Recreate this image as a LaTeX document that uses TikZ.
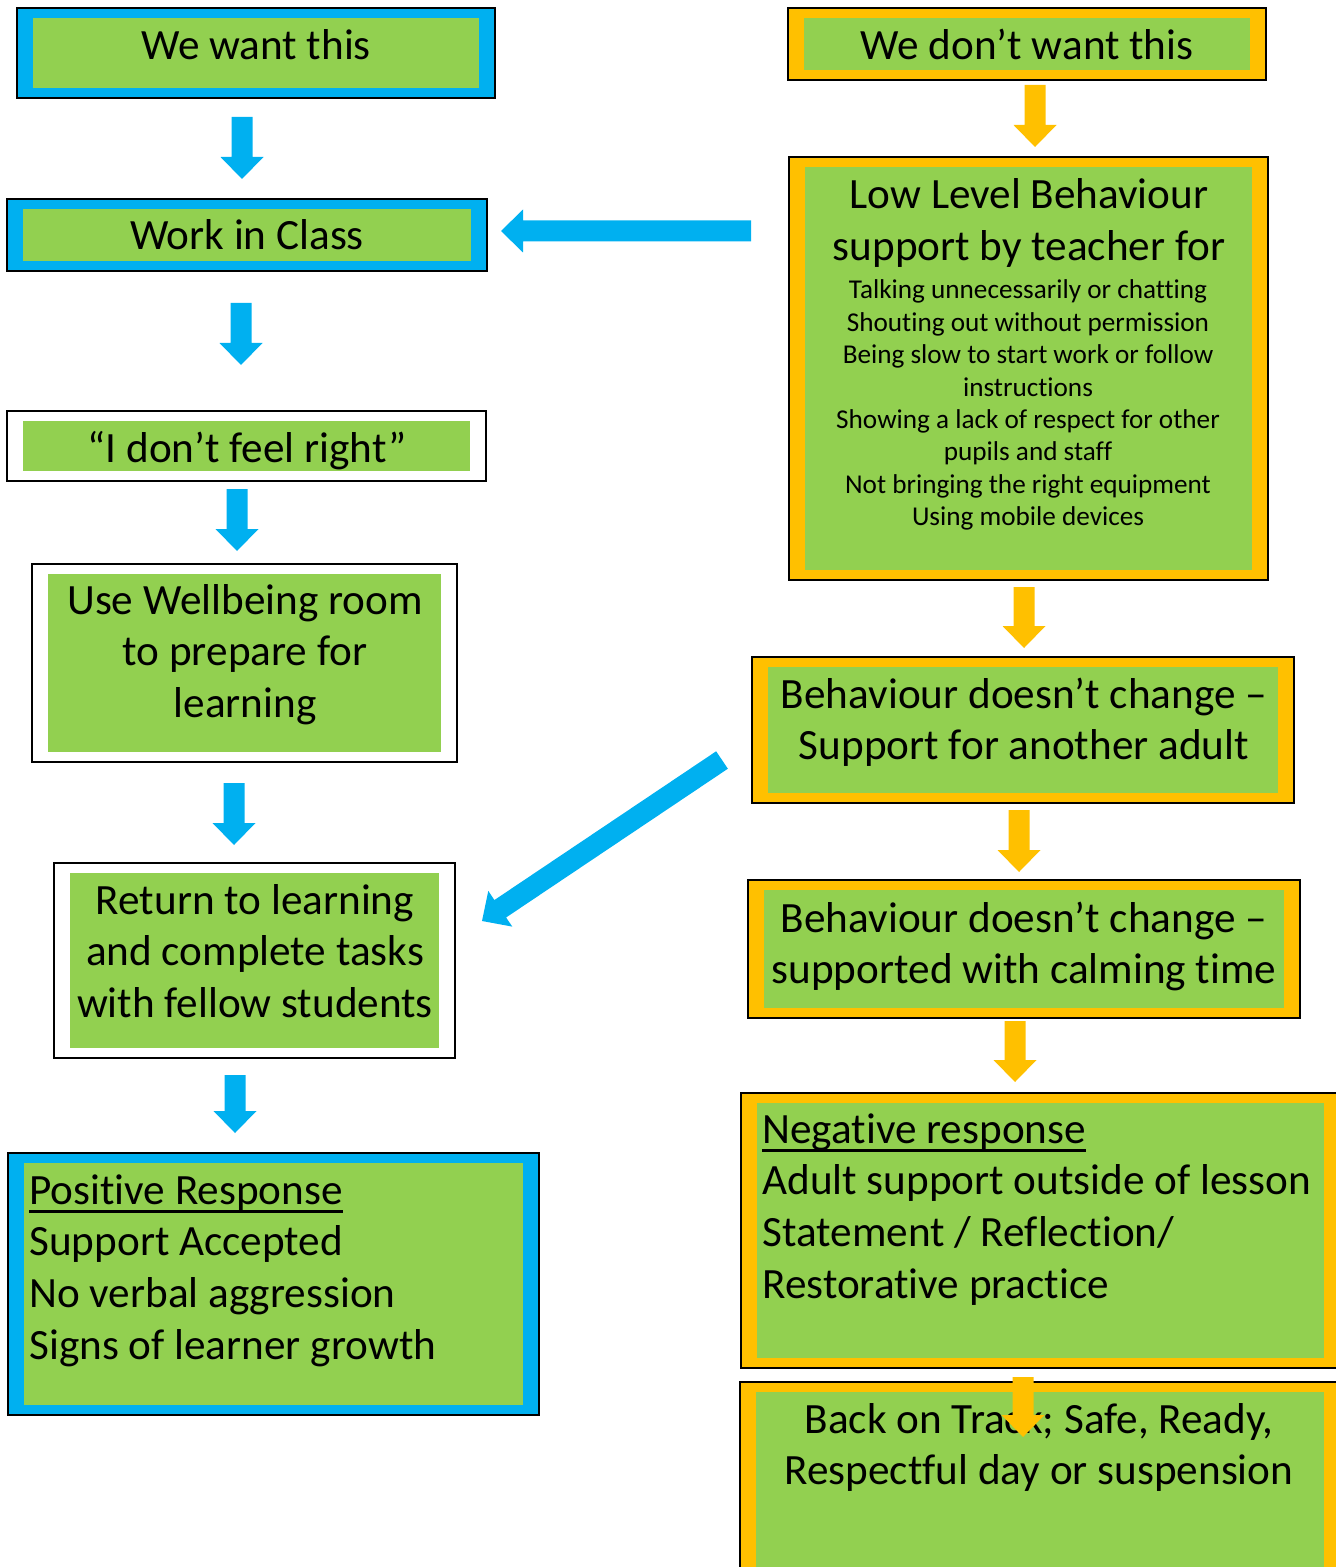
\documentclass[tikz,border=0pt]{standalone}
\usepackage{fontspec}
\setmainfont[Ligatures={NoCommon}]{Carlito}
\usetikzlibrary{calc,fit}
\definecolor{fblue}{HTML}{00B0F0}
\definecolor{fgreen}{HTML}{92D050}
\definecolor{fyellow}{HTML}{FFC000}

% centred / left-aligned multi-line text whose baseline is the first line
\newcommand\clines[1]{\vtop{\halign{\hfil##\hfil\cr#1\crcr}}}
\newcommand\llines[1]{\vtop{\halign{##\hfil\cr#1\crcr}}}
\newcommand\myul[1]{\setbox0\hbox{#1}\rlap{\vrule height -3.0pt depth 4.3pt width \wd0}\box0}

% outer framed box + inner green panel
\newcommand\flowbox[6]{%
  \node[draw=black, line width=1.1pt, fill=#6, inner sep=0pt, outer sep=0pt,
        fit={(#2,#3) (#4,#5)}] (#1-o) {};
  \node[fill=fgreen, inner sep=0pt, outer sep=0pt,
        fit={(#2+16,#3+10) (#4-16,#5-10)}] (#1) {};
}

% block arrow from tail coordinate #2 to tip coordinate #3
\newcommand\blockarrow[3]{%
  \coordinate (ahb) at ($(#3)!11pt!(#2)$);
  \fill[#1] ($(#2)!5.25pt!90:(#3)$) -- ($(ahb)!5.25pt!-90:(#2)$)
    -- ($(ahb)!10.75pt!-90:(#2)$) -- (#3) -- ($(ahb)!10.75pt!90:(#2)$)
    -- ($(ahb)!5.25pt!90:(#2)$) -- ($(#2)!5.25pt!-90:(#3)$) -- cycle;
}

\tikzset{
  bigtxt/.style={font=\fontsize{21.6}{25.9}\selectfont, inner sep=0pt, anchor=base},
  bigleft/.style={bigtxt, anchor=base west},
  smalltxt/.style={font=\fontsize{13.6}{16.2}\selectfont, inner sep=0pt, anchor=base},
}

\begin{document}
\begin{tikzpicture}[x=0.5pt, y=-0.5pt]
\useasboundingbox (0,0) rectangle (1336,1567);
\clip (0,0) rectangle (1336,1567);

% ---------------- left column ----------------
\flowbox{want}{17}{8}{495}{98}{fblue}
\flowbox{work}{7}{199}{487}{271}{fblue}
\flowbox{feel}{7}{411}{486}{481}{white}
\flowbox{well}{32}{564}{457}{762}{white}
\flowbox{ret}{54}{863}{455}{1058}{white}
\flowbox{pos}{8}{1153}{539}{1415}{fblue}

\node[bigtxt] (want-t) at (256,60) {We want this};
\node[bigtxt] (work-t) at (247,250) {Work in Class};
\node[bigtxt] (feel-t) at (247,462) {“I don’t feel right”};
\node[bigtxt] (well-t) at (245,614) {\clines{Use Wellbeing room\cr to prepare for\cr learning}};
\node[bigtxt] (ret-t) at (255,914) {\clines{Return to learning\cr and complete tasks\cr with fellow students}};
\node[bigleft] (pos-t) at (29,1204) {\llines{\myul{Positive Response}\cr Support Accepted\cr No verbal aggression\cr Signs of learner growth}};

% ---------------- right column ----------------
\flowbox{dont}{788}{8}{1266}{80}{fyellow}
\flowbox{low}{789}{157}{1268}{580}{fyellow}
\flowbox{adult}{752}{657}{1294}{803}{fyellow}
\flowbox{calm}{748}{880}{1300}{1018}{fyellow}
\flowbox{neg}{741}{1093}{1340}{1368}{fyellow}
\flowbox{back}{740}{1382}{1340}{1590}{fyellow}

\node[bigtxt] (dont-t) at (1027,60) {We don’t want this};
\node[bigtxt] (low-t) at (1029,209) {\clines{Low Level Behaviour\cr support by teacher for}};
\node[smalltxt] (low-s) at (1028,299) {\clines{Talking unnecessarily or chatting\cr
  Shouting out without permission\cr Being slow to start work or follow\cr
  instructions\cr Showing a lack of respect for other\cr pupils and staff\cr
  Not bringing the right equipment\cr Using mobile devices}};
\node[bigtxt] (adult-t) at (1024,708) {\clines{Behaviour doesn’t change –\cr Support for another adult}};
\node[bigtxt] (calm-t) at (1024,932) {\clines{Behaviour doesn’t change –\cr supported with calming time}};
\node[bigleft] (neg-t) at (762,1143) {\llines{\myul{Negative response}\cr Adult support outside of lesson\cr Statement / Reflection/\cr Restorative practice}};
\node[bigtxt] (back-t) at (1039,1433) {\clines{Back on Track; Safe, Ready,\cr Respectful day or suspension}};

% ---------------- arrows ----------------
\coordinate (b1a) at (242,117);  \coordinate (b1b) at (242,179);
\coordinate (b2a) at (241,303);  \coordinate (b2b) at (241,365);
\coordinate (b3a) at (237,489);  \coordinate (b3b) at (237,551);
\coordinate (b4a) at (234,783);  \coordinate (b4b) at (234,845);
\coordinate (b5a) at (235,1075); \coordinate (b5b) at (235,1133);
\coordinate (bha) at (751,231);  \coordinate (bhb) at (501,231);
\coordinate (bda) at (722,760);  \coordinate (bdb) at (482,921);

\coordinate (y1a) at (1035,85);   \coordinate (y1b) at (1035,147);
\coordinate (y2a) at (1024,587);  \coordinate (y2b) at (1024,648);
\coordinate (y3a) at (1019,810);  \coordinate (y3b) at (1019,872);
\coordinate (y4a) at (1015,1021); \coordinate (y4b) at (1015,1082);
\coordinate (y5a) at (1023,1377); \coordinate (y5b) at (1023,1437);

\blockarrow{fblue}{b1a}{b1b}
\blockarrow{fblue}{b2a}{b2b}
\blockarrow{fblue}{b3a}{b3b}
\blockarrow{fblue}{b4a}{b4b}
\blockarrow{fblue}{b5a}{b5b}
\blockarrow{fblue}{bha}{bhb}
\blockarrow{fblue}{bda}{bdb}

\blockarrow{fyellow}{y1a}{y1b}
\blockarrow{fyellow}{y2a}{y2b}
\blockarrow{fyellow}{y3a}{y3b}
\blockarrow{fyellow}{y4a}{y4b}
\blockarrow{fyellow}{y5a}{y5b}
\end{tikzpicture}
\end{document}
